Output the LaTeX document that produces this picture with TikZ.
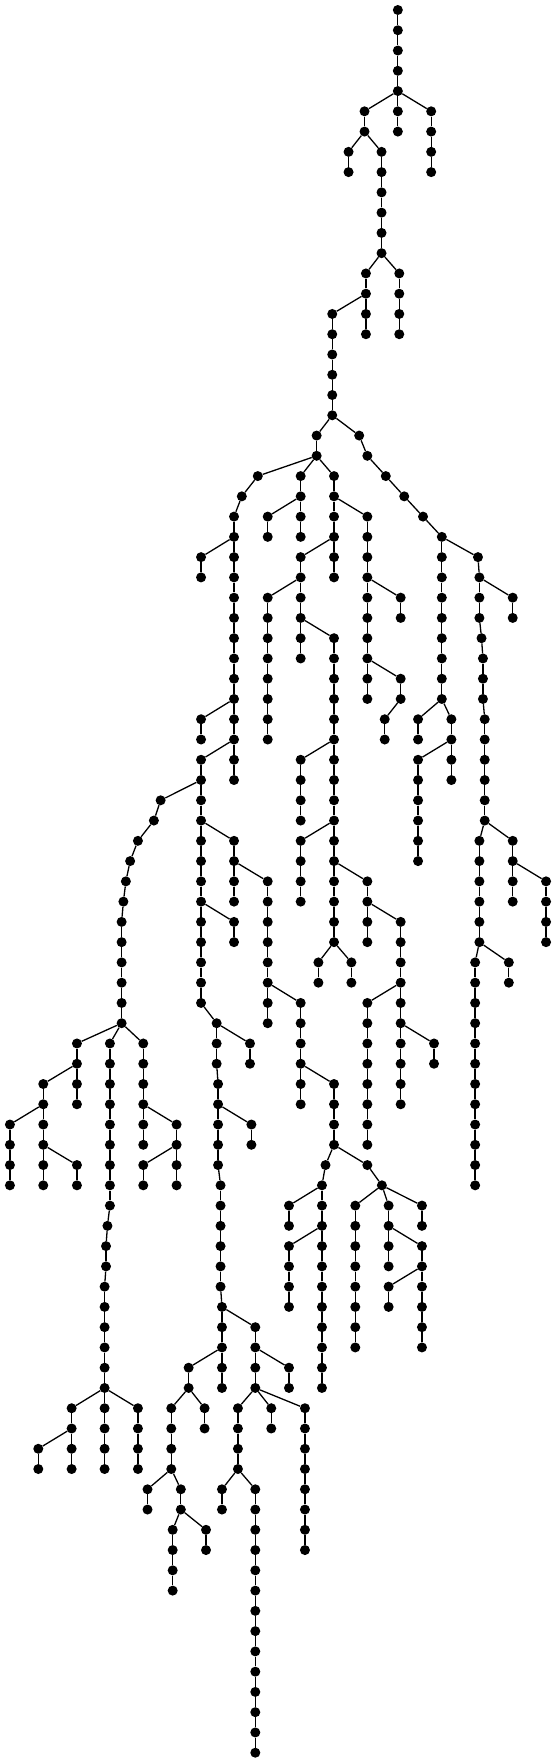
\documentclass[tikz,border=0pt]{standalone}
\begin{document}
\begin{tikzpicture}[x=0.35459pt,y=-20.264pt,
  vtx/.style={circle,fill=black,inner sep=0pt,minimum size=10pt},
  lnk/.style={draw=black,line width=1.3pt}]
\useasboundingbox (0pt,10pt) rectangle (556pt,-1753pt);
\node[vtx] (n0-1122) at (1122,0) {};
\foreach \L/\X/\P in {
1/1122/1122, 2/1122/1122, 3/1122/1122, 4/1122/1122,
5/1028/1122, 5/1122/1122, 5/1216/1122,
6/1028/1028, 6/1122/1122, 6/1216/1216,
7/983/1028, 7/1076/1028, 7/1216/1216,
8/983/983, 8/1076/1076, 8/1216/1216,
9/1076/1076, 10/1076/1076, 11/1076/1076, 12/1076/1076,
13/1032/1076, 13/1126/1076,
14/1032/1032, 14/1126/1126,
15/937/1032, 15/1032/1032, 15/1126/1126,
16/937/937, 16/1032/1032, 16/1126/1126,
17/937/937, 18/937/937, 19/937/937, 20/937/937,
21/893/937, 21/1013/937,
22/893/893, 22/1036/1013,
23/727/893, 23/848/893, 23/942/893, 23/1088/1036,
24/682/727, 24/848/848, 24/942/942, 24/1140/1088,
25/660/682, 25/755/848, 25/848/848, 25/942/942, 25/1036/942, 25/1193/1140,
26/660/660, 26/755/755, 26/848/848, 26/942/942, 26/1036/1036, 26/1246/1193,
27/567/660, 27/660/660, 27/848/942, 27/942/942, 27/1036/1036, 27/1246/1246, 27/1348/1246,
28/567/567, 28/660/660, 28/848/848, 28/942/942, 28/1036/1036, 28/1246/1246, 28/1352/1348,
29/660/660, 29/755/848, 29/848/848, 29/1036/1036, 29/1130/1036, 29/1246/1246, 29/1352/1352, 29/1446/1352,
30/660/660, 30/755/755, 30/848/848, 30/1036/1036, 30/1130/1130, 30/1246/1246, 30/1352/1352, 30/1446/1446,
31/660/660, 31/755/755, 31/848/848, 31/942/848, 31/1036/1036, 31/1246/1246, 31/1358/1352,
32/660/660, 32/755/755, 32/848/848, 32/942/942, 32/1036/1036, 32/1246/1246, 32/1362/1358,
33/660/660, 33/755/755, 33/942/942, 33/1036/1036, 33/1130/1036, 33/1246/1246, 33/1362/1362,
34/660/660, 34/755/755, 34/942/942, 34/1036/1036, 34/1130/1130, 34/1246/1246, 34/1362/1362,
35/567/660, 35/660/660, 35/755/755, 35/942/942, 35/1085/1130, 35/1179/1246, 35/1273/1246, 35/1367/1362,
36/567/567, 36/660/660, 36/755/755, 36/942/942, 36/1085/1085, 36/1179/1179, 36/1273/1273, 36/1367/1367,
37/567/660, 37/660/660, 37/848/942, 37/942/942, 37/1179/1273, 37/1273/1273, 37/1367/1367,
38/567/567, 38/660/660, 38/848/848, 38/942/942, 38/1179/1179, 38/1273/1273, 38/1367/1367,
39/453/567, 39/567/567, 39/848/848, 39/942/942, 39/1179/1179, 39/1367/1367,
40/434/453, 40/567/567, 40/848/848, 40/942/942, 40/1179/1179, 40/1367/1367,
41/389/434, 41/567/567, 41/660/567, 41/848/942, 41/942/942, 41/1179/1179, 41/1352/1367, 41/1446/1367,
42/367/389, 42/567/567, 42/660/660, 42/848/848, 42/942/942, 42/1179/1179, 42/1352/1352, 42/1446/1446,
43/355/367, 43/567/567, 43/660/660, 43/755/660, 43/848/848, 43/942/942, 43/1036/942, 43/1352/1352, 43/1446/1446, 43/1540/1446,
44/348/355, 44/567/567, 44/660/660, 44/755/755, 44/848/848, 44/942/942, 44/1036/1036, 44/1352/1352, 44/1446/1446, 44/1540/1540,
45/343/348, 45/567/567, 45/660/567, 45/755/755, 45/942/942, 45/1036/1036, 45/1130/1036, 45/1352/1352, 45/1540/1540,
46/343/343, 46/567/567, 46/660/660, 46/755/755, 46/942/942, 46/1036/1036, 46/1130/1130, 46/1352/1352, 46/1540/1540,
47/343/343, 47/567/567, 47/755/755, 47/898/942, 47/991/942, 47/1130/1130, 47/1340/1352, 47/1435/1352,
48/343/343, 48/567/567, 48/755/755, 48/898/898, 48/991/991, 48/1130/1130, 48/1340/1340, 48/1435/1435,
49/343/343, 49/567/567, 49/755/755, 49/848/755, 49/1036/1130, 49/1130/1130, 49/1340/1340,
50/343/343, 50/611/567, 50/755/755, 50/848/848, 50/1036/1036, 50/1130/1130, 50/1340/1340,
51/217/343, 51/310/343, 51/404/343, 51/611/611, 51/705/611, 51/848/848, 51/1036/1036, 51/1130/1130, 51/1224/1130, 51/1340/1340,
52/217/217, 52/310/310, 52/404/404, 52/611/611, 52/705/705, 52/848/848, 52/1036/1036, 52/1130/1130, 52/1224/1224, 52/1340/1340,
53/122/217, 53/217/217, 53/310/310, 53/404/404, 53/615/611, 53/848/848, 53/942/848, 53/1036/1036, 53/1130/1130, 53/1340/1340,
54/122/122, 54/217/217, 54/310/310, 54/404/404, 54/615/615, 54/848/848, 54/942/942, 54/1036/1036, 54/1130/1130, 54/1340/1340,
55/28/122, 55/122/122, 55/310/310, 55/404/404, 55/498/404, 55/615/615, 55/709/615, 55/942/942, 55/1036/1036, 55/1340/1340,
56/28/28, 56/122/122, 56/310/310, 56/404/404, 56/498/498, 56/615/615, 56/709/709, 56/942/942, 56/1036/1036, 56/1340/1340,
57/28/28, 57/122/122, 57/217/122, 57/310/310, 57/404/498, 57/498/498, 57/615/615, 57/918/942, 57/1036/942, 57/1340/1340,
58/28/28, 58/122/122, 58/217/217, 58/310/310, 58/404/404, 58/498/498, 58/622/615, 58/908/918, 58/1077/1036, 58/1340/1340,
59/310/310, 59/622/622, 59/815/908, 59/908/908, 59/1002/1077, 59/1096/1077, 59/1190/1077,
60/303/310, 60/622/622, 60/815/815, 60/908/908, 60/1002/1002, 60/1096/1096, 60/1190/1190,
61/299/303, 61/622/622, 61/815/908, 61/908/908, 61/1002/1002, 61/1096/1096, 61/1190/1096,
62/299/299, 62/622/622, 62/815/815, 62/908/908, 62/1002/1002, 62/1096/1096, 62/1190/1190,
63/295/299, 63/622/622, 63/815/815, 63/908/908, 63/1002/1002, 63/1096/1190, 63/1190/1190,
64/295/295, 64/626/622, 64/815/815, 64/908/908, 64/1002/1002, 64/1096/1096, 64/1190/1190,
65/295/295, 65/626/626, 65/720/626, 65/908/908, 65/1002/1002, 65/1190/1190,
66/295/295, 66/626/626, 66/720/720, 66/908/908, 66/1002/1002, 66/1190/1190,
67/295/295, 67/532/626, 67/626/626, 67/720/720, 67/815/720, 67/908/908,
68/295/295, 68/532/532, 68/626/626, 68/720/720, 68/815/815, 68/908/908,
69/202/295, 69/295/295, 69/389/295, 69/483/532, 69/577/532, 69/671/720, 69/765/720, 69/860/720,
70/202/202, 70/295/295, 70/389/389, 70/483/483, 70/577/577, 70/671/671, 70/765/765, 70/860/860,
71/108/202, 71/202/202, 71/295/295, 71/389/389, 71/483/483, 71/671/671, 71/860/860,
72/108/108, 72/202/202, 72/295/295, 72/389/389, 72/483/483, 72/671/671, 72/860/860,
73/416/483, 73/510/483, 73/626/671, 73/720/671, 73/860/860,
74/416/416, 74/510/510, 74/626/626, 74/720/720, 74/860/860,
75/487/510, 75/581/510, 75/720/720, 75/860/860,
76/487/487, 76/581/581, 76/720/720, 76/860/860,
77/487/487, 77/720/720,
78/487/487, 78/720/720,
79/720/720, 80/720/720, 81/720/720, 82/720/720, 83/720/720, 84/720/720, 85/720/720, 86/720/720}{
  \pgfmathtruncatemacro\pl{\L-1}
  \node[vtx] (n\L-\X) at (\X,\L) {};
  \draw[lnk] (n\pl-\P) -- (n\L-\X);
}
\end{tikzpicture}
\end{document}
